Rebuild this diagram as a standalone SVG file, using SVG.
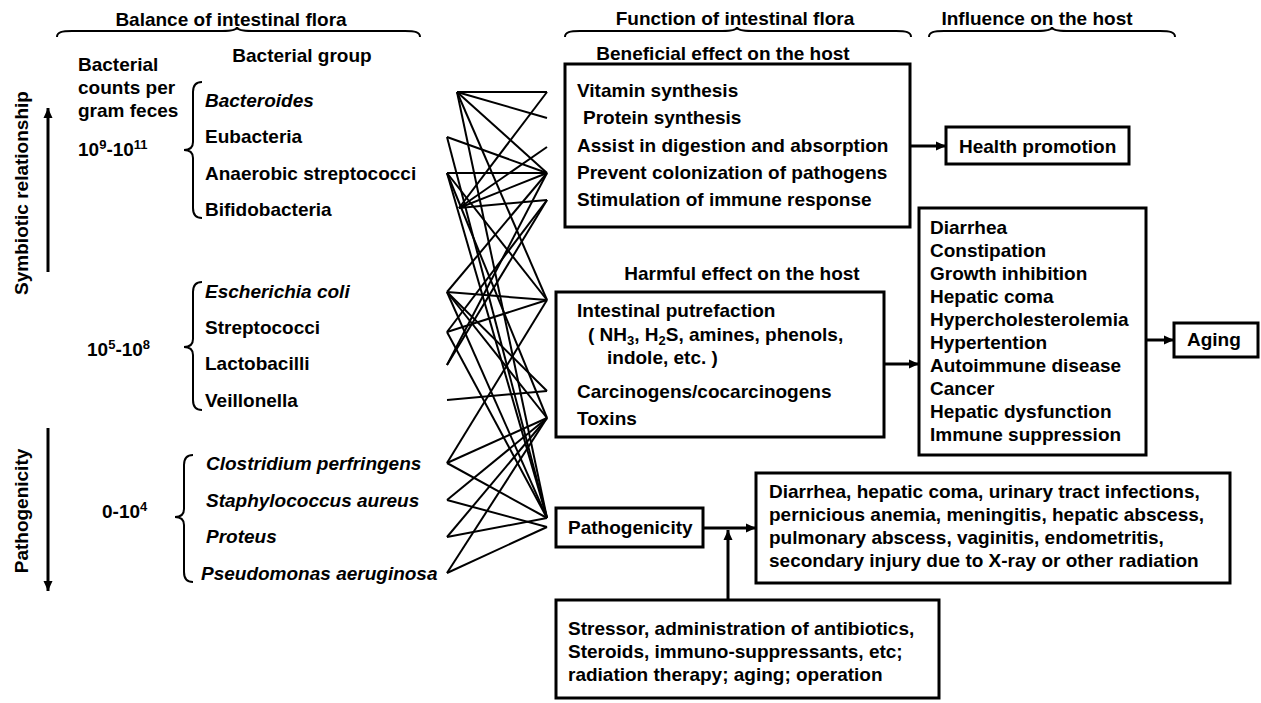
<svg xmlns="http://www.w3.org/2000/svg" width="1261" height="703" viewBox="0 0 1261 703">
<style>
text{font-family:"Liberation Sans",Arial,sans-serif;font-size:19px;font-weight:bold;fill:#000}
.it{font-style:italic}
.mid{text-anchor:middle}
.box{fill:#fff;stroke:#000;stroke-width:3}
.brace{fill:none;stroke:#000;stroke-width:2}
.link{stroke:#000;stroke-width:2;fill:none}
.arr{stroke:#000;stroke-width:3;fill:none}
</style>
<defs>
<marker id="ah" viewBox="0 0 10 10" refX="10" refY="5" markerWidth="10" markerHeight="10" markerUnits="userSpaceOnUse" orient="auto">
<path d="M0,0.5 L10,5 L0,9.5 z" fill="#000"/>
</marker>
</defs>
<rect width="1261" height="703" fill="#fff"/>

<g id="hdr-balance">
<text class="mid" x="231" y="26">Balance of intestinal flora</text>
<path class="brace" d="M57,37 C57,32 62,31 72,31 L222,31 C231,31 237,30 237,27 C237,30 243,31 252,31 L405,31 C415,31 420,32 420,37"/>
</g>
<g id="hdr-function">
<text class="mid" x="735" y="25">Function of intestinal flora</text>
<path class="brace" d="M565,37 C565,32 570,31 580,31 L722,31 C731,31 737,30 737,27 C737,30 743,31 752,31 L896,31 C906,31 911,32 911,37"/>
</g>
<g id="hdr-influence">
<text class="mid" x="1037" y="25">Influence on the host</text>
<path class="brace" d="M929,37 C929,32 934,31 944,31 L1037,31 C1046,31 1052,30 1052,27 C1052,30 1058,31 1067,31 L1160,31 C1170,31 1175,32 1175,37"/>
</g>

<g id="axis-symbiotic">
<text class="mid" transform="translate(28,193) rotate(-90)">Symbiotic relationship</text>
<line class="arr" x1="48" y1="272" x2="48" y2="108" marker-end="url(#ah)"/>
</g>
<g id="axis-pathogenicity">
<text class="mid" transform="translate(28,511) rotate(-90)">Pathogenicity</text>
<line class="arr" x1="48" y1="428" x2="48" y2="591" marker-end="url(#ah)"/>
</g>

<g id="col-counts">
<text x="78" y="71">Bacterial</text>
<text x="78" y="94">counts per</text>
<text x="78" y="117">gram feces</text>
<text class="mid" x="302" y="62">Bacterial group</text>
</g>

<g id="grp-high">
<text x="78" y="156">10<tspan font-size="13" dy="-7">9</tspan><tspan dy="7">-10</tspan><tspan font-size="13" dy="-7">11</tspan></text>
<path class="brace" d="M202,82 C196,82 193,85 193,92 L193,142 C193,147 190,150 184,150 C190,150 193,153 193,158 L193,208 C193,215 196,218 202,218"/>
<text class="it" x="205" y="107">Bacteroides</text>
<text x="205" y="143">Eubacteria</text>
<text x="205" y="180">Anaerobic streptococci</text>
<text x="205" y="216">Bifidobacteria</text>
</g>

<g id="grp-mid">
<text x="87" y="356">10<tspan font-size="13" dy="-7">5</tspan><tspan dy="7">-10</tspan><tspan font-size="13" dy="-7">8</tspan></text>
<path class="brace" d="M202,282 C196,282 193,285 193,292 L193,339 C193,344 190,347 184,347 C190,347 193,350 193,355 L193,400 C193,407 196,410 202,410"/>
<text class="it" x="205" y="298">Escherichia coli</text>
<text x="205" y="334">Streptococci</text>
<text x="205" y="370">Lactobacilli</text>
<text x="205" y="407">Veillonella</text>
</g>

<g id="grp-low">
<text x="102" y="518">0-10<tspan font-size="13" dy="-7">4</tspan></text>
<path class="brace" d="M193,455 C187,455 184,458 184,465 L184,509 C184,514 181,517 175,517 C181,517 184,520 184,525 L184,572 C184,579 187,582 193,582"/>
<text class="it" x="206" y="470">Clostridium perfringens</text>
<text class="it" x="206" y="507">Staphylococcus aureus</text>
<text class="it" x="206" y="543">Proteus</text>
<text class="it" x="201" y="580">Pseudomonas aeruginosa</text>
</g>

<g id="connectors">
<line class="link" x1="457" y1="92" x2="547" y2="92"/>
<line class="link" x1="457" y1="92" x2="547" y2="118"/>
<line class="link" x1="457" y1="92" x2="547" y2="173"/>
<line class="link" x1="457" y1="92" x2="547" y2="300"/>
<line class="link" x1="457" y1="92" x2="547" y2="518"/>
<line class="link" x1="447" y1="137" x2="547" y2="173"/>
<line class="link" x1="447" y1="137" x2="547" y2="518"/>
<line class="link" x1="447" y1="173" x2="547" y2="173"/>
<line class="link" x1="447" y1="173" x2="547" y2="300"/>
<line class="link" x1="447" y1="173" x2="547" y2="418"/>
<line class="link" x1="447" y1="173" x2="547" y2="518"/>
<line class="link" x1="459" y1="208" x2="547" y2="92"/>
<line class="link" x1="459" y1="208" x2="547" y2="147"/>
<line class="link" x1="459" y1="208" x2="547" y2="173"/>
<line class="link" x1="459" y1="208" x2="547" y2="200"/>
<line class="link" x1="447" y1="292" x2="547" y2="173"/>
<line class="link" x1="447" y1="292" x2="547" y2="300"/>
<line class="link" x1="447" y1="292" x2="547" y2="391"/>
<line class="link" x1="447" y1="292" x2="547" y2="418"/>
<line class="link" x1="447" y1="292" x2="547" y2="518"/>
<line class="link" x1="447" y1="332" x2="547" y2="200"/>
<line class="link" x1="447" y1="332" x2="547" y2="300"/>
<line class="link" x1="447" y1="332" x2="547" y2="518"/>
<line class="link" x1="447" y1="365" x2="547" y2="173"/>
<line class="link" x1="447" y1="365" x2="547" y2="200"/>
<line class="link" x1="447" y1="400" x2="547" y2="391"/>
<line class="link" x1="447" y1="463" x2="547" y2="300"/>
<line class="link" x1="447" y1="463" x2="547" y2="418"/>
<line class="link" x1="447" y1="463" x2="547" y2="518"/>
<line class="link" x1="447" y1="500" x2="547" y2="418"/>
<line class="link" x1="447" y1="500" x2="547" y2="527"/>
<line class="link" x1="447" y1="537" x2="547" y2="418"/>
<line class="link" x1="447" y1="537" x2="547" y2="518"/>
<line class="link" x1="447" y1="573" x2="547" y2="418"/>
<line class="link" x1="447" y1="573" x2="547" y2="527"/>
<line class="arr" x1="911" y1="146" x2="946" y2="146" marker-end="url(#ah)"/>
<line class="arr" x1="884" y1="364" x2="919" y2="364" marker-end="url(#ah)"/>
<line class="arr" x1="1146" y1="340" x2="1174" y2="340" marker-end="url(#ah)"/>
<line class="arr" x1="703" y1="528" x2="756" y2="528" marker-end="url(#ah)"/>
<line class="arr" x1="728" y1="600" x2="728" y2="530" marker-end="url(#ah)"/>
</g>

<g id="box-beneficial">
<text class="mid" x="723" y="60">Beneficial effect on the host</text>
<rect class="box" x="565" y="64" width="345" height="163"/>
<text x="577" y="97">Vitamin synthesis</text>
<text x="583" y="124">Protein synthesis</text>
<text x="577" y="152">Assist in digestion and absorption</text>
<text x="577" y="179">Prevent colonization of pathogens</text>
<text x="577" y="206">Stimulation of immune response</text>
</g>

<g id="box-health">
<rect class="box" x="946" y="127" width="183" height="37"/>
<text x="959" y="153">Health promotion</text>
</g>

<g id="box-harmful">
<text class="mid" x="742" y="280">Harmful effect on the host</text>
<rect class="box" x="556" y="292" width="328" height="145"/>
<text x="577" y="317">Intestinal putrefaction</text>
<text x="588" y="341">( NH<tspan font-size="13" dy="4">3</tspan><tspan dy="-4">, H</tspan><tspan font-size="13" dy="4">2</tspan><tspan dy="-4">S, amines, phenols,</tspan></text>
<text x="607" y="364">indole, etc. )</text>
<text x="577" y="398">Carcinogens/cocarcinogens</text>
<text x="577" y="425">Toxins</text>
</g>

<g id="box-diseases">
<rect class="box" x="919" y="208" width="227" height="247"/>
<text x="930" y="234">Diarrhea</text>
<text x="930" y="257">Constipation</text>
<text x="930" y="280">Growth inhibition</text>
<text x="930" y="303">Hepatic coma</text>
<text x="930" y="326">Hypercholesterolemia</text>
<text x="930" y="349">Hypertention</text>
<text x="930" y="372">Autoimmune disease</text>
<text x="930" y="395">Cancer</text>
<text x="930" y="418">Hepatic dysfunction</text>
<text x="930" y="441">Immune suppression</text>
</g>

<g id="box-aging">
<rect class="box" x="1174" y="323" width="84" height="34"/>
<text x="1187" y="346">Aging</text>
</g>

<g id="box-pathogenicity">
<rect class="box" x="556" y="508" width="147" height="39"/>
<text x="568" y="534">Pathogenicity</text>
</g>

<g id="box-pathdiseases">
<rect class="box" x="756" y="473" width="474" height="110"/>
<text x="769" y="498">Diarrhea, hepatic coma, urinary tract infections,</text>
<text x="769" y="521">pernicious anemia, meningitis, hepatic abscess,</text>
<text x="769" y="544">pulmonary abscess, vaginitis, endometritis,</text>
<text x="769" y="567">secondary injury due to X-ray or other radiation</text>
</g>

<g id="box-stressor">
<rect class="box" x="556" y="600" width="383" height="98"/>
<text x="568" y="635">Stressor, administration of antibiotics,</text>
<text x="568" y="658">Steroids, immuno-suppressants, etc;</text>
<text x="568" y="681">radiation therapy; aging; operation</text>
</g>
</svg>
